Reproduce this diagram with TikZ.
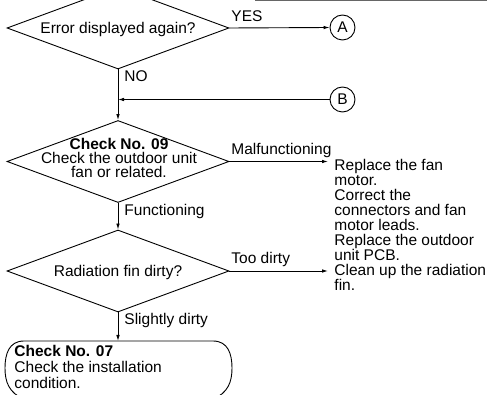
\documentclass[tikz,border=0pt]{standalone}
\usepackage{fontspec}
\setmainfont{Liberation Sans}
\usetikzlibrary{shapes.geometric,arrows.meta}
\begin{document}
\begin{tikzpicture}[x=1pt,y=-1pt,
  line width=0.9pt,
  >={Latex[length=6pt,width=3.6pt]},
  decision/.style={draw, diamond, minimum width=222pt, minimum height=82pt, inner sep=0pt},
  lbl/.style={font=\fontsize{15.5}{15}\selectfont, inner sep=0pt, anchor=west},
  conn/.style={draw, circle, minimum size=25pt, inner sep=0pt, font=\fontsize{15.5}{15}\selectfont},
  dtext/.style={font=\fontsize{15.5}{14}\selectfont, align=center, inner sep=0pt},
  note/.style={font=\fontsize{15.5}{15}\selectfont, align=left, inner sep=0pt, anchor=north west}]
\useasboundingbox (0,0) rectangle (493,395);
\clip (0,0) rectangle (493,395);

% rule at the top edge
\draw[black!60, line width=2pt] (255,0) -- (487,0);

% first decision
\node[decision] (d1) at (118,28) {};
\node[lbl, anchor=center] (t1) at (118,29) {Error displayed again?};
\node[conn] (A) at (342.5,27.5) {A};
\draw[->] (d1.east) -- (A.west);
\node[lbl] (yes) at (231,16) {YES};

% second decision
\node[decision] (d2) at (118,161.5) {};
\node[dtext] (t2) at (119,158) {\textbf{Check No. 09}\\Check the outdoor unit\\fan or related.};
\draw[->] (d1.south) -- (d2.north);
\node[lbl] (no) at (124,76) {NO};
\node[conn] (B) at (342.5,99.5) {B};
\coordinate (join) at (118,99.5);
\draw[->] (B.west) -- (join);

\node[note] (fix) at (334,159) {Replace the fan\\motor.\\Correct the\\connectors and fan\\motor leads.\\Replace the outdoor\\unit PCB.\\Clean up the radiation\\fin.};
\coordinate (fixA) at (328,161.5);
\draw[->] (d2.east) -- (fixA);
\node[lbl] (mal) at (231,150) {Malfunctioning};

% third decision
\node[decision] (d3) at (118,271) {};
\node[lbl, anchor=center] (t3) at (118,272) {Radiation fin dirty?};
\draw[->] (d2.south) -- (d3.north);
\node[lbl] (func) at (124,211) {Functioning};
\coordinate (fixB) at (328,271);
\draw[->] (d3.east) -- (fixB);
\node[lbl] (dirty) at (231,259) {Too dirty};

% final check
\coordinate (boxtop) at (118,341);
\draw[->] (d3.south) -- (boxtop);
\node[lbl] (slight) at (124,320) {Slightly dirty};
\draw (24,399) .. controls (9,393) and (5,382) .. (5,368)
      .. controls (5,354) and (9,341) .. (24,341) -- (213,341)
      .. controls (228,341) and (232,354) .. (232,368)
      .. controls (232,382) and (228,393) .. (213,399);
\node[note, font=\fontsize{15.5}{16}\selectfont] (chk) at (14,345) {\textbf{Check No. 07}\\Check the installation\\condition.};
\end{tikzpicture}
\end{document}
